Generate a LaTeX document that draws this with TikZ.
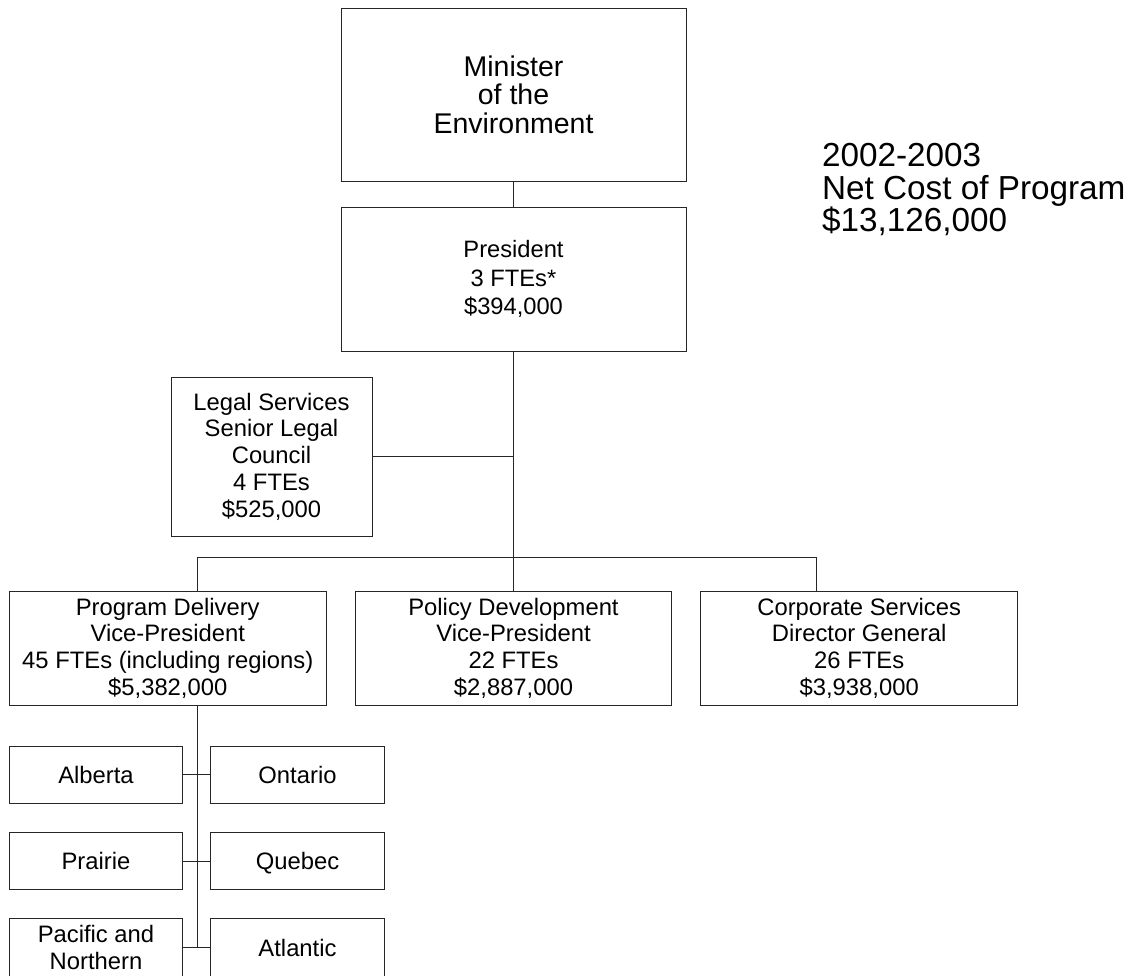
\documentclass[tikz,border=0pt]{standalone}
\usepackage{fontspec}
\setmainfont{Liberation Sans}
\begin{document}
\begin{tikzpicture}[x=1pt,y=-1pt,
  line width=1pt,
  box/.style={draw=black!85,line width=1pt,inner sep=0pt,align=center,
    font=\fontsize{23.8}{26.7}\selectfont},
  vpbox/.style={box,minimum width=316.5pt,minimum height=114pt},
  regbox/.style={box,minimum width=173.5pt,minimum height=57.5pt},
  oneline/.style={text height=17pt,text depth=0pt},
  conn/.style={draw=black!85,line width=1pt}]
\useasboundingbox (0,0) rectangle (1138,975);
\node[box,minimum width=345pt,minimum height=173pt,
  font=\fontsize{28.5}{28.5}\selectfont] (min) at (513.5,94.5) {Minister\\of the\\Environment};
\node[box,minimum width=345pt,minimum height=144pt,
  font=\fontsize{23.7}{28.3}\selectfont] (pres) at (513.5,279) {President\\3 FTEs*\\\$394,000};
\node[box,minimum width=201pt,minimum height=159pt] (legal) at (271.5,456.5)
  {Legal Services\\Senior Legal\\Council\\4 FTEs\\\$525,000};
\node[vpbox] (prog) at (167.75,648) {Program Delivery\\Vice-President\\45 FTEs (including regions)\\\$5,382,000};
\node[vpbox] (pol) at (513.5,648) {Policy Development\\Vice-President\\22 FTEs\\\$2,887,000};
\node[vpbox] (corp) at (859.2,648) {Corporate Services\\Director General\\26 FTEs\\\$3,938,000};
\node[regbox,oneline] (alb) at (96,774.75) {Alberta};
\node[regbox,oneline] (ont) at (297.5,774.75) {Ontario};
\node[regbox,oneline] (pra) at (96,861) {Prairie};
\node[regbox,oneline] (que) at (297.5,861) {Quebec};
\node[regbox,minimum height=59pt] (pac) at (96,947.5) {Pacific and\\Northern};
\node[regbox,oneline,minimum height=59pt] (atl) at (297.5,947.5) {Atlantic};
\node[anchor=north west,inner sep=0pt,align=left,
  font=\fontsize{33.3}{32.5}\selectfont] (cost) at (821.5,143)
  {2002-2003\\Net Cost of Program\\\$13,126,000};
% coordinates
\coordinate (busL) at (197.5,557);
\coordinate (busR) at (816.7,557);
\coordinate (progdrop) at (197.5,591);
\coordinate (corpdrop) at (816.7,591);
\coordinate (legalj) at (513.5,456.7);
\coordinate (progout) at (197.5,705);
\coordinate (trunkend) at (197.5,947.5);
% connectors
\draw[conn] (min.south) -- (pres.north);
\draw[conn] (pres.south) -- (pol.north);
\draw[conn] (legal.east |- legalj) -- (legalj);
\draw[conn] (busL) -- (busR);
\draw[conn] (busL) -- (progdrop);
\draw[conn] (busR) -- (corpdrop);
\draw[conn] (progout) -- (trunkend);
\draw[conn] (alb.east) -- (ont.west);
\draw[conn] (pra.east) -- (que.west);
\draw[conn] (pac.east) -- (atl.west);
\end{tikzpicture}
\end{document}
